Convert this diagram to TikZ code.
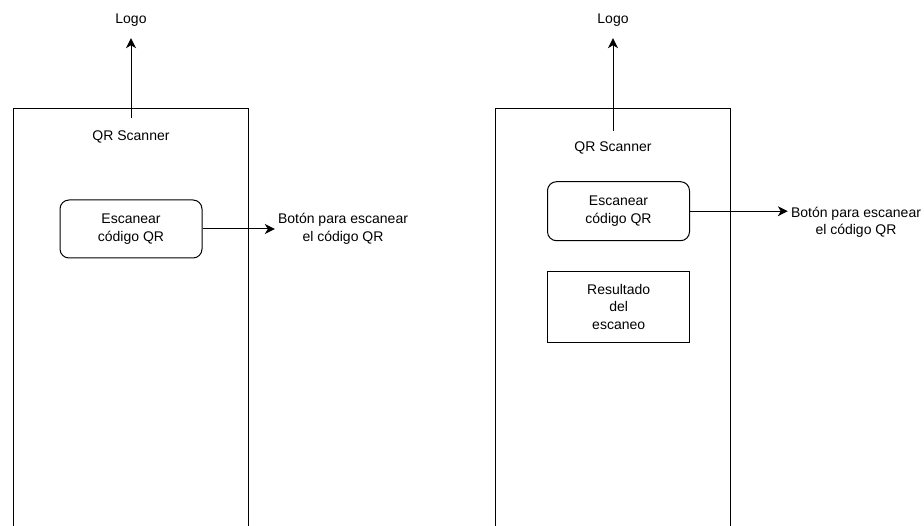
\documentclass[tikz,border=0pt]{standalone}
\usepackage{fontspec}
\setmainfont{Liberation Sans}
\usetikzlibrary{arrows.meta}
\begin{document}
\begin{tikzpicture}[x=1pt,y=1pt,
  every node/.style={font=\fontsize{14}{17.5}\selectfont, align=center, text=black},
  frame/.style={draw=black, line width=1pt, minimum width=235pt, minimum height=480pt, anchor=north},
  btn/.style={draw=black, line width=1pt, rounded corners=9pt, minimum width=142pt, minimum height=58pt},
  resbox/.style={draw=black, line width=1pt, minimum width=142pt, minimum height=71pt},
  arr/.style={draw=black, line width=1pt, -{Stealth[length=10pt,width=10pt,inset=3pt]}},
  lbl/.style={inner sep=3pt}
]
\useasboundingbox (0,0) rectangle (924,-526);

% first screen
\node[frame] (phoneA) at (130.5,-108) {};
\node[minimum height=38pt, inner sep=0pt] (titleA) at (131,-137) {QR Scanner};
\node[minimum height=36pt, inner sep=0pt] (logoA) at (131,-20) {Logo};
\node[btn] (btnA) at (131,-229) {Escanear\\código QR};
\node[lbl] (lblA) at (343,-229) {Botón para escanear\\el código QR};
\draw[arr] (titleA.north) -- (logoA.south);
\draw[arr] (btnA.east) -- (lblA.west);

% second screen
\node[frame] (phoneB) at (613,-108) {};
\node[minimum height=34pt, inner sep=0pt] (titleB) at (613,-148) {QR Scanner};
\node[minimum height=36pt, inner sep=0pt] (logoB) at (613,-20) {Logo};
\node[btn, minimum height=59pt] (btnB) at (618.5,-211.2) {Escanear\\código QR};
\node[lbl] (lblB) at (856,-222.5) {Botón para escanear\\el código QR};
\node[resbox] (resB) at (618.7,-306.7) {Resultado\\del\\escaneo};
\draw[arr] (titleB.north) -- (logoB.south);
\draw[arr] (btnB.east) -- (btnB.east -| lblB.west);
\end{tikzpicture}
\end{document}
